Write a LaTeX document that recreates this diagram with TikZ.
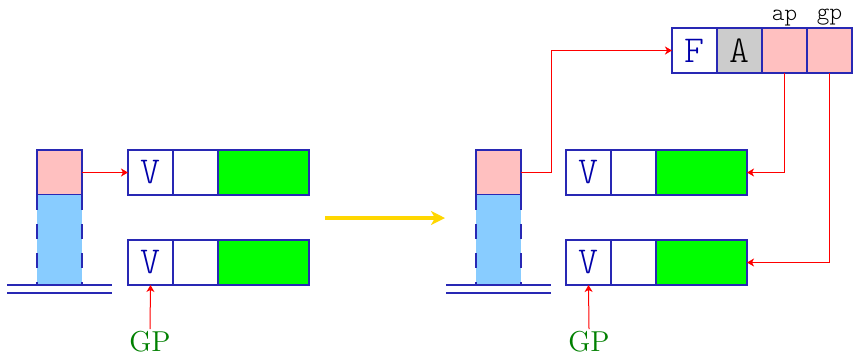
\documentclass[tikz,border=0pt]{standalone}
\usetikzlibrary{arrows.meta, positioning}
\definecolor{cellblue}{HTML}{2828B4}
\definecolor{vblue}{HTML}{0000AA}
\definecolor{spink}{HTML}{FFC0C0}
\definecolor{sblue}{HTML}{88CCFF}
\definecolor{vgreen}{HTML}{00FF00}
\definecolor{agray}{HTML}{CCCCCC}
\definecolor{gpgreen}{HTML}{008000}
\definecolor{gold}{HTML}{FFD700}

\begin{document}
\begin{tikzpicture}[
  x=0.5pt, y=-0.5pt,
  >={Stealth[length=3.5pt, width=4pt, inset=1pt]},
  cell/.style={draw=cellblue, line width=0.6pt, minimum width=22.5pt, minimum height=22.5pt,
    inner sep=0pt, outer sep=0pt, anchor=north west, text=vblue,
    font=\ttfamily\fontseries{l}\fontsize{19}{22}\selectfont},
  wide/.style={cell, minimum width=45.5pt, fill=vgreen},
  link/.style={red, line width=0.5pt},
  gp/.style={text=gpgreen, font=\Large, inner sep=1pt},
  lab/.style={font=\ttfamily\fontseries{l}\fontsize{12}{14}\selectfont, inner sep=1pt},
]

% frame
\useasboundingbox (0,0) rectangle (854,355);

% ---- left: before ----
% stack
\node[cell, fill=spink] (lsp) at (37,150) {};
\node[cell, draw=none, fill=sblue, minimum height=45pt] (lsb) at (37,195) {};
\draw[cellblue, line width=0.6pt, dash pattern=on 7.5pt off 7pt] (lsb.north west) -- (lsb.south west);
\draw[cellblue, line width=0.6pt, dash pattern=on 7.5pt off 7pt] (lsb.north east) -- (lsb.south east);
\draw[cellblue, line width=0.6pt] (7,285) -- (112,285);
\draw[cellblue, line width=0.6pt] (7,293) -- (112,293);

% frames
\node[cell] (lv1) at (128,150) {V};
\node[cell, right=0pt of lv1] (le1) {};
\node[wide, right=0pt of le1] (lg1) {};
\node[cell] (lv2) at (128,240) {V};
\node[cell, right=0pt of lv2] (le2) {};
\node[wide, right=0pt of le2] (lg2) {};

\node[gp] (lgp) at (150,342) {GP};

\draw[link,->] (lsp.east) -- (lv1.west);
\draw[link,->] (lgp.north) -- (lv2.south);

% transition
\coordinate (tfrom) at (325,218);
\coordinate (tto) at (445,218);
\draw[gold, line width=2pt, -{Stealth[length=7pt, width=7pt, inset=2pt]}] (tfrom) -- (tto);

% ---- right: after ----
% stack
\node[cell, fill=spink] (rsp) at (476,150) {};
\node[cell, draw=none, fill=sblue, minimum height=45pt] (rsb) at (476,195) {};
\draw[cellblue, line width=0.6pt, dash pattern=on 7.5pt off 7pt] (rsb.north west) -- (rsb.south west);
\draw[cellblue, line width=0.6pt, dash pattern=on 7.5pt off 7pt] (rsb.north east) -- (rsb.south east);
\draw[cellblue, line width=0.6pt] (446,285) -- (551,285);
\draw[cellblue, line width=0.6pt] (446,293) -- (551,293);

% frames
\node[cell] (rv1) at (566,150) {V};
\node[cell, right=0pt of rv1] (re1) {};
\node[wide, right=0pt of re1] (rg1) {};
\node[cell] (rv2) at (566,240) {V};
\node[cell, right=0pt of rv2] (re2) {};
\node[wide, right=0pt of re2] (rg2) {};

% new frame
\node[cell] (rf) at (672,28) {F};
\node[cell, right=0pt of rf, fill=agray, text=black] (ra) {A};
\node[cell, right=0pt of ra, fill=spink] (rap) {};
\node[cell, right=0pt of rap, fill=spink] (rgp) {};
\node[lab, above=0pt of rap] (lap) {ap};
\node[lab, above=0pt of rgp] (lgpl) {gp};

\node[gp] (rgpt) at (589,342) {GP};

\draw[link,->] (rsp.east) -- ++(30,0) |- (rf.west);
\draw[link,->] (rap.south) |- (rg1.east);
\draw[link,->] (rgp.south) |- (rg2.east);
\draw[link,->] (rgpt.north) -- (rv2.south);

\end{tikzpicture}
\end{document}
